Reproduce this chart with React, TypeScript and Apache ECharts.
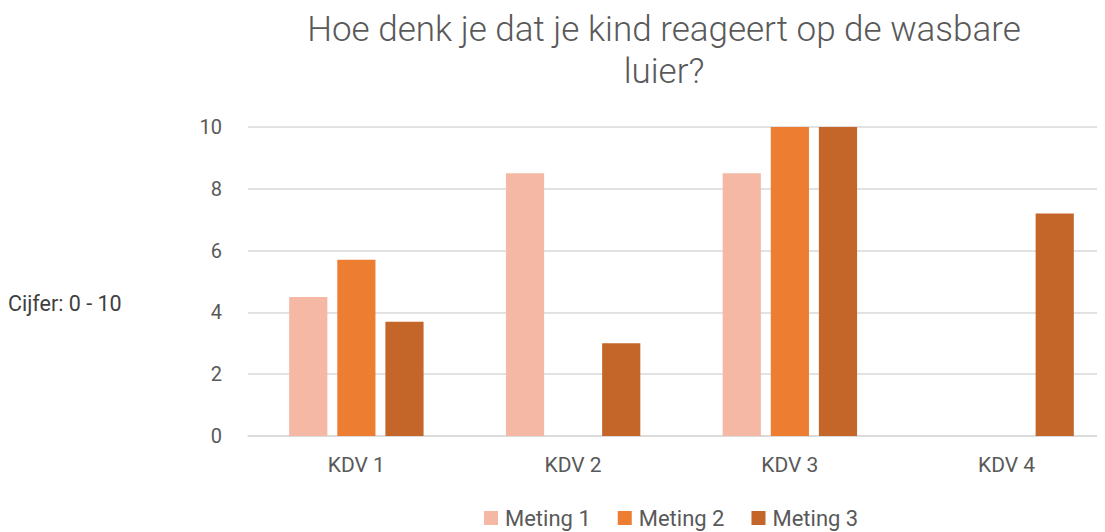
import React, { useEffect, useRef } from "react";
import * as echarts from "echarts";

const categories = ["KDV 1", "KDV 2", "KDV 3", "KDV 4"];
const meting1: (number | null)[] = [4.5, 8.5, 8.5, null];
const meting2: (number | null)[] = [5.7, null, 10, null];
const meting3: (number | null)[] = [3.7, 3.0, 10, 7.2];
const seriesNames = ["Meting 1", "Meting 2", "Meting 3"];
const colors = ["#F4B8A4", "#ED7D31", "#C4652A"];
const titleText = "Hoe denk je dat je kind reageert op de wasbare\nluier?";
const yName = "Cijfer: 0 - 10";

const FONT = "Roboto, sans-serif";
const GRAY = "#595959";

export default function App() {
  const ref = useRef<HTMLDivElement>(null);
  useEffect(() => {
    if (!ref.current) return;
    const chart = echarts.init(ref.current, undefined, { renderer: "svg" });
    const data = [meting1, meting2, meting3];
    chart.setOption({
      animation: false,
      textStyle: { fontFamily: FONT },
      title: {
        text: titleText,
        left: 651,
        top: -5,
        textAlign: "center",
        textStyle: { fontFamily: FONT, fontSize: 35, fontWeight: 300, color: GRAY, lineHeight: 42 },
      },
      graphic: [
        {
          type: "text",
          left: 0,
          top: 284,
          style: { text: yName, fontFamily: FONT, fontSize: 21.5, fill: "#404040" },
        },
      ],
      legend: {
        top: 494,
        left: 471,
        itemWidth: 14,
        itemHeight: 14,
        itemGap: 27,
        icon: "rect",
        textStyle: { fontFamily: FONT, fontSize: 22, color: GRAY, padding: [0, 0, 0, 2] },
        data: seriesNames,
      },
      grid: { left: 240, top: 119, width: 867, height: 309 },
      xAxis: {
        type: "category",
        data: categories,
        axisLine: { lineStyle: { color: "#D9D9D9", width: 1.5 } },
        axisTick: { show: false },
        axisLabel: { fontFamily: FONT, fontSize: 21, color: GRAY, margin: 18 },
      },
      yAxis: {
        type: "value",
        min: 0,
        max: 10,
        interval: 2,
        axisLine: { show: false },
        axisTick: { show: false },
        splitLine: { lineStyle: { color: "#D9D9D9", width: 1.5 } },
        axisLabel: { fontFamily: FONT, fontSize: 20, color: GRAY, margin: 26 },
      },
      series: seriesNames.map((name, i) => ({
        name,
        type: "bar",
        data: data[i],
        itemStyle: { color: colors[i] },
        barGap: "26%",
        barCategoryGap: "38%",
      })),
    });
    return () => chart.dispose();
  }, []);
  return (
    <div style={{ width: 1097, height: 524, overflow: "hidden" }}>
      <div ref={ref} style={{ width: 1120, height: 524 }} />
    </div>
  );
}
